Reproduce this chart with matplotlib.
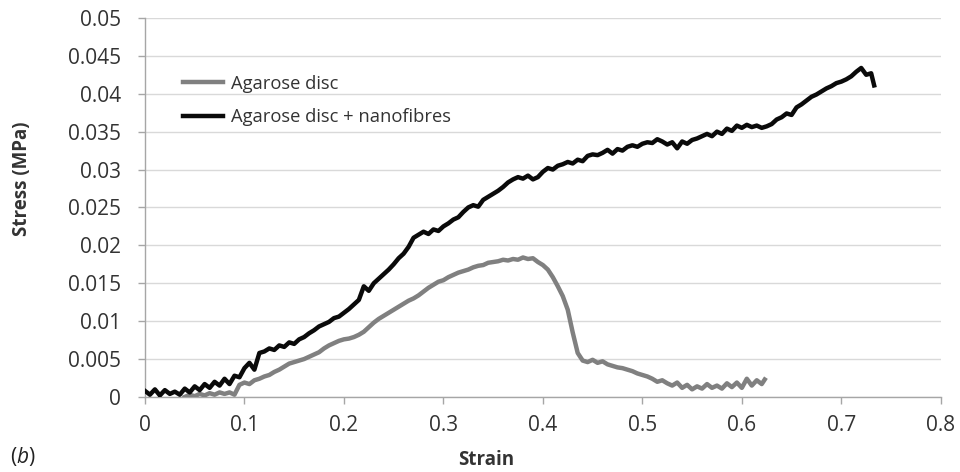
import numpy as np
from matplotlib import pyplot as plt

plt.rcParams['font.family'] = ['Open Sans', 'DejaVu Sans']
plt.rcParams['mathtext.fontset'] = 'custom'
plt.rcParams['mathtext.it'] = 'Open Sans:italic'

# stress every 0.005 strain
disc_fibres_stress = [
    0.0008, 0.0003, 0.0010, 0.0002, 0.0009, 0.0004, 0.0007, 0.0003, 0.0011, 0.0006,
    0.0014, 0.0009, 0.0017, 0.0012, 0.0020, 0.0015, 0.0024, 0.0017, 0.0028, 0.0026,
    0.0038, 0.0045, 0.0036, 0.0058, 0.0060, 0.0064, 0.0062, 0.0068, 0.0066, 0.0072,
    0.0070, 0.0076, 0.0079, 0.0084, 0.0088, 0.0093, 0.0096, 0.0099, 0.0104, 0.0106,
    0.0111, 0.0116, 0.0122, 0.0128, 0.0146, 0.0140, 0.0150, 0.0156, 0.0162, 0.0168,
    0.0175, 0.0183, 0.0189, 0.0198, 0.0210, 0.0214, 0.0218, 0.0215, 0.0221, 0.0219,
    0.0225, 0.0229, 0.0234, 0.0237, 0.0244, 0.0250, 0.0253, 0.0251, 0.0260, 0.0264,
    0.0268, 0.0272, 0.0277, 0.0283, 0.0287, 0.0290, 0.0288, 0.0292, 0.0287, 0.0290,
    0.0297, 0.0302, 0.0300, 0.0305, 0.0307, 0.0310, 0.0308, 0.0313, 0.0311, 0.0318,
    0.0320, 0.0319, 0.0322, 0.0326, 0.0321, 0.0327, 0.0325, 0.0330, 0.0332, 0.0330,
    0.0334, 0.0336, 0.0335, 0.0340, 0.0337, 0.0333, 0.0336, 0.0328, 0.0337, 0.0334,
    0.0339, 0.0341, 0.0344, 0.0347, 0.0344, 0.0350, 0.0347, 0.0354, 0.0351, 0.0358,
    0.0355, 0.0359, 0.0356, 0.0358, 0.0355, 0.0357, 0.0360, 0.0366, 0.0369, 0.0374,
    0.0372, 0.0382, 0.0386, 0.0391, 0.0396, 0.0399, 0.0403, 0.0407, 0.0410, 0.0414,
    0.0416, 0.0419, 0.0423, 0.0429, 0.0434, 0.0425, 0.0427,
    0.0411,
]
disc_fibres_strain = list(np.linspace(0.0, 0.73, 147)) + [0.733]

disc_stress = [
    0.0000, 0.0003, 0.0001, 0.0004, 0.0002, 0.0005, 0.0003, 0.0006, 0.0004, 0.0006,
    0.0003, 0.0016, 0.0019, 0.0017, 0.0022, 0.0024, 0.0027, 0.0029, 0.0033, 0.0036,
    0.0040, 0.0044, 0.0046, 0.0048, 0.0050, 0.0053, 0.0056, 0.0059, 0.0064, 0.0068,
    0.0071, 0.0074, 0.0076, 0.0077, 0.0079, 0.0082, 0.0086, 0.0092, 0.0098, 0.0103,
    0.0107, 0.0111, 0.0115, 0.0119, 0.0123, 0.0127, 0.0130, 0.0134, 0.0139, 0.0144,
    0.0148, 0.0152, 0.0154, 0.0158, 0.0161, 0.0164, 0.0166, 0.0168, 0.0171, 0.0173,
    0.0174, 0.0177, 0.0178, 0.0179, 0.0181, 0.0180, 0.0182, 0.0181, 0.0184, 0.0182,
    0.0183, 0.0178, 0.0174, 0.0168, 0.0158, 0.0146, 0.0133, 0.0115, 0.0085, 0.0058,
    0.0048, 0.0046, 0.0049, 0.0045, 0.0047, 0.0043, 0.0041, 0.0039, 0.0038, 0.0036,
    0.0034, 0.0031, 0.0029, 0.0027, 0.0024, 0.0020, 0.0022, 0.0018, 0.0015, 0.0019,
    0.0012, 0.0016, 0.0010, 0.0014, 0.0011, 0.0017, 0.0012, 0.0015, 0.0011, 0.0018,
    0.0013, 0.0019, 0.0012, 0.0024, 0.0015, 0.0022, 0.0017,
    0.0023,
]
disc_strain = list(np.linspace(0.04, 0.62, 117)) + [0.623]

x_ticks = [0, 0.1, 0.2, 0.3, 0.4, 0.5, 0.6, 0.7, 0.8]
y_ticks = [0, 0.005, 0.01, 0.015, 0.02, 0.025, 0.03, 0.035, 0.04, 0.045, 0.05]

fig = plt.figure(figsize=(9.6, 4.72), dpi=100)
ax = fig.add_axes([0.151, 0.159, 0.829, 0.803])

ax.plot(disc_strain, disc_stress, color='#808080', lw=3.2, label='Agarose disc', zorder=3)
ax.plot(disc_fibres_strain, disc_fibres_stress, color='#0a0a0a', lw=3.2,
        label='Agarose disc + nanofibres', zorder=4)

ax.set_xlim(0, 0.8)
ax.set_ylim(0, 0.05)
ax.set_xticks(x_ticks, [f'{v:g}' for v in x_ticks], fontsize=15, color='#333333')
ax.set_yticks(y_ticks, [f'{v:g}' for v in y_ticks], fontsize=15, color='#333333')
ax.grid(axis='y', color='#d9d9d9', lw=1.0)
ax.set_axisbelow(True)
for s in ['top', 'right']:
    ax.spines[s].set_visible(False)
for s in ['left', 'bottom']:
    ax.spines[s].set_color('#a6a6a6')
    ax.spines[s].set_linewidth(1.0)
ax.tick_params(axis='both', colors='#a6a6a6', labelcolor='#333333',
               length=5, width=1.0, direction='out')
ax.tick_params(axis='x', pad=8)
ax.tick_params(axis='y', pad=12)

fig.text(486 / 960, 1 - 460 / 472, 'Strain', fontsize=13.5, fontweight='bold',
         color='#333333', ha='center', va='center')
fig.text(22 / 960, 1 - 179 / 472, 'Stress (MPa)', fontsize=13.5, fontweight='bold',
         color='#333333', ha='center', va='center', rotation=90)

leg = ax.legend(loc='upper left', bbox_to_anchor=(0.0477, 0.85), frameon=False,
                fontsize=13.2, handlelength=2.2, handletextpad=0.4, labelspacing=0.85,
                borderpad=0, borderaxespad=0)
for t in leg.get_texts():
    t.set_color('#333333')

fig.text(10 / 960, 1 - 456 / 472, r'($\mathit{b}$)', fontsize=15, color='#222222',
         va='center')

fig.savefig('out.png', dpi=100)
